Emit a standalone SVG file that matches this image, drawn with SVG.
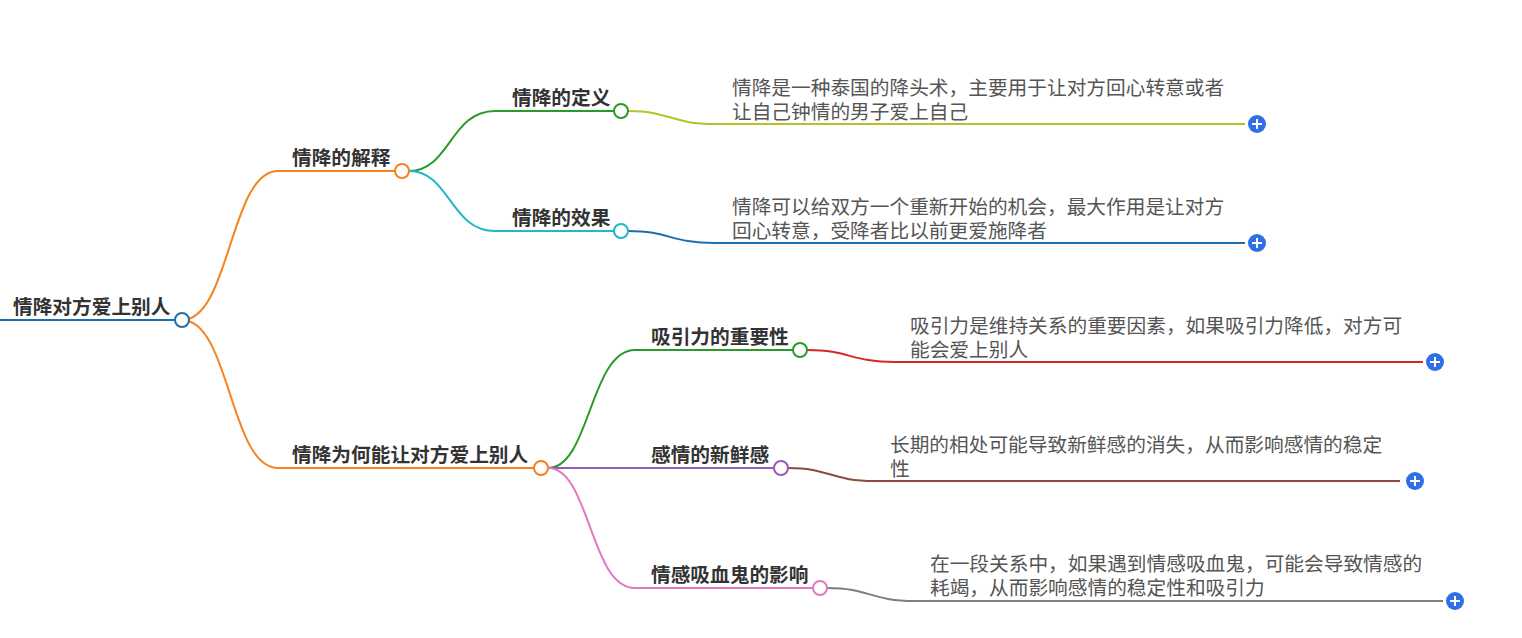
<svg xmlns="http://www.w3.org/2000/svg" width="1522" height="638" viewBox="0 0 1522 638">
<style>
.n{font-family:"Noto Sans CJK SC",sans-serif;font-size:19.7px;font-weight:bold;fill:#333}
.l{font-family:"Noto Sans CJK SC",sans-serif;font-size:19.7px;fill:#555}
path,line{fill:none;stroke-width:2}
circle.c{fill:#fff;stroke-width:2}
.p circle{fill:#2f6fe8}
.p line{stroke:#fff;stroke-width:2}
</style>
<rect width="1522" height="638" fill="#fff"/>
<g id="connectors">
<path d="M182,320 C230,320 230,171 278,171 L402,171" stroke="#f5811f"/>
<path d="M182,320 C230,320 230,468 278,468 L541,468" stroke="#f5811f"/>
<path d="M409,171 C450,171 450,111 495,111 L614,111" stroke="#2a9a2a"/>
<path d="M409,171 C450,171 450,231 495,231 L614,231" stroke="#1fb8c9"/>
<path d="M628,111 C670,111 670,124 715,124 L1245,124" stroke="#b5c22a"/>
<path d="M628,231 C670,231 670,243 715,243 L1245,243" stroke="#1f6fad"/>
<path d="M548,468 C590,468 590,350 635,350 L793,350" stroke="#2a9a2a"/>
<path d="M548,468 L774,468" stroke="#9b59b6"/>
<path d="M548,468 C590,468 590,588 635,588 L813,588" stroke="#e377c2"/>
<path d="M807,350 C850,350 850,362 895,362 L1423,362" stroke="#d62728"/>
<path d="M788,468 C830,468 830,481 875,481 L1400,481" stroke="#8c4b3c"/>
<path d="M827,588 C870,588 870,601 915,601 L1443,601" stroke="#7f7f7f"/>
</g>
<g id="root">
<line x1="0" y1="320" x2="175" y2="320" stroke="#1f6fad" stroke-width="4"/>
<text class="n" x="13" y="314">情降对方爱上别人</text>
<circle class="c" cx="182" cy="320" r="7" stroke="#1f6fad"/>
</g>
<g id="n1"><text class="n" x="292" y="165">情降的解释</text><circle class="c" cx="402" cy="171" r="7" stroke="#f5811f"/></g>
<g id="n2"><text class="n" x="292" y="462">情降为何能让对方爱上别人</text><circle class="c" cx="541" cy="468" r="7" stroke="#f5811f"/></g>
<g id="n11"><text class="n" x="512" y="105">情降的定义</text><circle class="c" cx="621" cy="111" r="7" stroke="#2a9a2a"/></g>
<g id="n12"><text class="n" x="512" y="225">情降的效果</text><circle class="c" cx="621" cy="231" r="7" stroke="#1fb8c9"/></g>
<g id="n21"><text class="n" x="651" y="344">吸引力的重要性</text><circle class="c" cx="800" cy="350" r="7" stroke="#2a9a2a"/></g>
<g id="n22"><text class="n" x="651" y="462">感情的新鲜感</text><circle class="c" cx="781" cy="468" r="7" stroke="#9b59b6"/></g>
<g id="n23"><text class="n" x="651" y="582">情感吸血鬼的影响</text><circle class="c" cx="820" cy="588" r="7" stroke="#e377c2"/></g>
<g id="l11"><text class="l" x="732" y="95">情降是一种泰国的降头术，主要用于让对方回心转意或者</text><text class="l" x="732" y="119">让自己钟情的男子爱上自己</text></g>
<g id="l12"><text class="l" x="732" y="214">情降可以给双方一个重新开始的机会，最大作用是让对方</text><text class="l" x="732" y="238">回心转意，受降者比以前更爱施降者</text></g>
<g id="l21"><text class="l" x="910" y="333">吸引力是维持关系的重要因素，如果吸引力降低，对方可</text><text class="l" x="910" y="357">能会爱上别人</text></g>
<g id="l22"><text class="l" x="890" y="452">长期的相处可能导致新鲜感的消失，从而影响感情的稳定</text><text class="l" x="890" y="476">性</text></g>
<g id="l23"><text class="l" x="930" y="571">在一段关系中，如果遇到情感吸血鬼，可能会导致情感的</text><text class="l" x="930" y="595">耗竭，从而影响感情的稳定性和吸引力</text></g>
<g class="p" id="plus1"><circle cx="1257" cy="124" r="9"/><line x1="1252" y1="124" x2="1262" y2="124"/><line x1="1257" y1="119" x2="1257" y2="129"/></g>
<g class="p" id="plus2"><circle cx="1257" cy="243" r="9"/><line x1="1252" y1="243" x2="1262" y2="243"/><line x1="1257" y1="238" x2="1257" y2="248"/></g>
<g class="p" id="plus3"><circle cx="1435" cy="362" r="9"/><line x1="1430" y1="362" x2="1440" y2="362"/><line x1="1435" y1="357" x2="1435" y2="367"/></g>
<g class="p" id="plus4"><circle cx="1415" cy="481" r="9"/><line x1="1410" y1="481" x2="1420" y2="481"/><line x1="1415" y1="476" x2="1415" y2="486"/></g>
<g class="p" id="plus5"><circle cx="1455" cy="601" r="9"/><line x1="1450" y1="601" x2="1460" y2="601"/><line x1="1455" y1="596" x2="1455" y2="606"/></g>
</svg>
